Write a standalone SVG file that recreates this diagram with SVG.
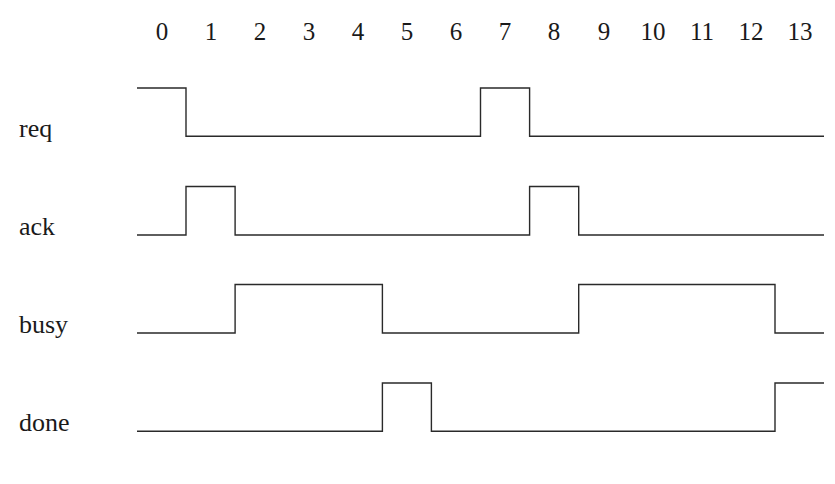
<svg xmlns="http://www.w3.org/2000/svg" width="835" height="484" viewBox="0 0 835 484">
<style>
text{font-family:"Liberation Serif","DejaVu Serif",serif;font-size:26px;fill:#1a1a1a}
.tick{text-anchor:middle;font-size:25px}
.wave{fill:none;stroke:#2a2a2a;stroke-width:1.4;stroke-linejoin:miter;stroke-linecap:butt}
</style>
<rect width="835" height="484" fill="#fff"/>
<g id="ticks">
<text class="tick" x="162" y="40">0</text>
<text class="tick" x="211" y="40">1</text>
<text class="tick" x="260" y="40">2</text>
<text class="tick" x="309" y="40">3</text>
<text class="tick" x="358" y="40">4</text>
<text class="tick" x="407" y="40">5</text>
<text class="tick" x="456" y="40">6</text>
<text class="tick" x="505" y="40">7</text>
<text class="tick" x="554" y="40">8</text>
<text class="tick" x="604" y="40">9</text>
<text class="tick" x="653" y="40">10</text>
<text class="tick" x="702" y="40">11</text>
<text class="tick" x="751" y="40">12</text>
<text class="tick" x="800" y="40">13</text>
</g>
<g id="req">
<text x="19" y="136.5">req</text>
<path class="wave" d="M137,88 H186 V136.3 H480.5 V88 H529.6 V136.3 H824"/>
</g>
<g id="ack">
<text x="19" y="235">ack</text>
<path class="wave" d="M137,235 H186 V186.5 H235.1 V235 H529.6 V186.5 H578.7 V235 H824"/>
</g>
<g id="busy">
<text x="19" y="333">busy</text>
<path class="wave" d="M137,333 H235.1 V284.5 H382.4 V333 H578.7 V284.5 H775 V333 H824"/>
</g>
<g id="done">
<text x="19" y="431">done</text>
<path class="wave" d="M137,431.3 H382.4 V383 H431.4 V431.3 H775 V383 H824"/>
</g>
<g id="connectors"></g>
</svg>
